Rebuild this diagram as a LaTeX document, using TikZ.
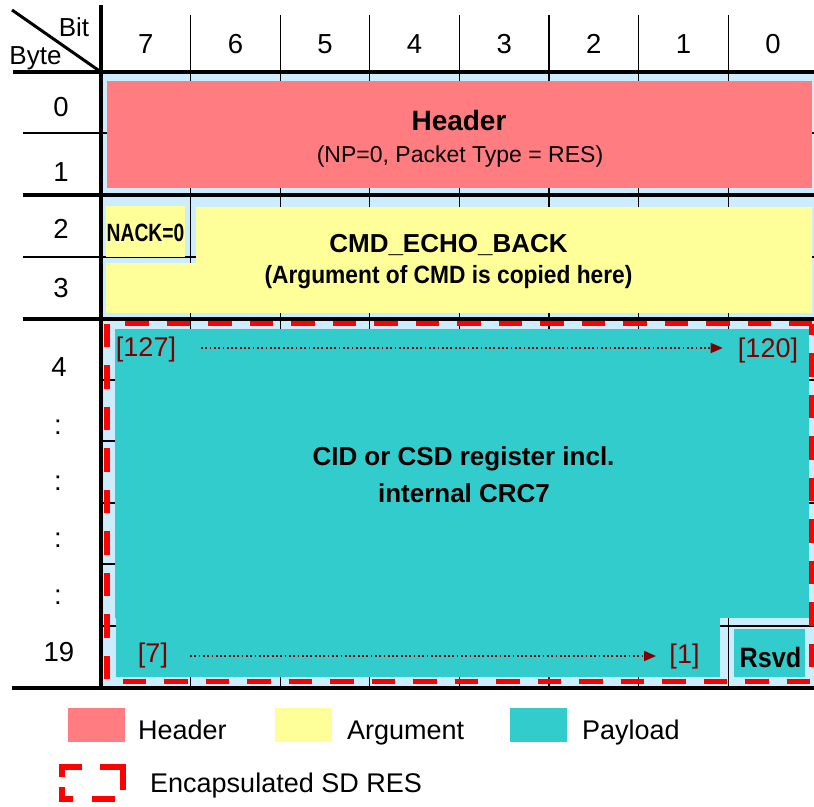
\documentclass[tikz,border=0pt]{standalone}
\usepackage{fontspec}
\usepackage{graphicx}
\setmainfont{Liberation Sans}
\usetikzlibrary{arrows.meta}
\definecolor{lb}{HTML}{CCECFF}
\definecolor{pinkc}{HTML}{FF7C80}
\definecolor{yelc}{HTML}{FFFF99}
\definecolor{tealc}{HTML}{33CCCC}
\definecolor{dred}{HTML}{800000}
\definecolor{redc}{HTML}{FF0000}
\newcommand{\fs}[1]{\fontsize{#1}{#1}\selectfont}
\begin{document}
\begin{tikzpicture}[x=1pt,y=-1pt,
  txt/.style={inner sep=0pt,anchor=base},
  ltxt/.style={inner sep=0pt,anchor=base west},
  thin grid/.style={line width=1.3pt,black},
  thick rule/.style={line width=4pt,black},
  encl/.style={line width=5.5pt,redc,dash pattern=on 23.5pt off 18pt},
  dotarrow/.style={dred,line width=1.8pt,dash pattern=on 1.8pt off 2.5pt,
     -{Triangle[length=12pt,width=10pt]}},
  legsym/.style={line width=6pt,redc,line join=miter}]
\useasboundingbox (0,0) rectangle (814,806);
% light blue background
\fill[lb] (101,72) rectangle (814,688);
% grid
\foreach \k in {1,...,7}{
  \draw[thin grid] ({101+89.6*\k},15) -- ({101+89.6*\k},688);
}
\foreach \yy in {133,257,380,441,503,564,626}{
  \draw[thin grid] (101,\yy) -- (814,\yy);
}
\draw[thin grid] (23,133) -- (101,133);
\draw[thin grid] (23,257) -- (101,257);
% coloured blocks
\fill[pinkc] (107,81) rectangle (812,188);
\fill[yelc] (106,206) rectangle (185,257);
\fill[yelc] (196,207) rectangle (812,313);
\fill[yelc] (106,263) rectangle (812,313);
\fill[tealc] (115,329) rectangle (809,618);
\fill[tealc] (116,616) rectangle (720,677);
\fill[tealc] (734,629) rectangle (805,677);
% thick rules
\draw[thick rule] (13,72) -- (814,72);
\draw[thick rule] (23,195) -- (814,195);
\draw[thick rule] (23,318.5) -- (814,318.5);
\draw[thick rule] (12,688) -- (814,688);
\draw[thick rule] (101,5) -- (101,690);
\draw[line width=3pt] (12,10) -- (101,72);
% encapsulation frame
\coordinate (e1) at (107,323.5);
\coordinate (e2) at (811.5,323.5);
\coordinate (e3) at (811.5,681.5);
\coordinate (e4) at (107,681.5);
\draw[encl,dash phase=23.5pt] (e1) -- (e2);
\draw[encl,dash phase=0pt] (e1) -- (e4);
\draw[encl,dash phase=26pt] (e4) -- (e3);
\draw[encl,dash phase=12pt] (e2) -- (e3);
% corner labels
\node[txt] (bit) at (74,36) {\fs{26}Bit};
\node[txt] (byte) at (35.5,64) {\fs{26}Byte};
% column labels
\foreach \b [count=\i from 0] in {7,6,5,4,3,2,1,0}{
  \node[txt] (col\b) at ({145.8+89.6*\i},53) {\fs{27.5}\b};
}
% byte labels
\node[txt] (r0) at (61,116) {\fs{27.5}0};
\node[txt] (r1) at (61,181) {\fs{27.5}1};
\node[txt] (r2) at (61,238) {\fs{27.5}2};
\node[txt] (r3) at (61,297) {\fs{27.5}3};
\node[txt] (r4) at (59,376) {\fs{27.5}4};
\node[txt] (c1) at (58,434) {\fs{27.5}:};
\node[txt] (c2) at (58,490) {\fs{27.5}:};
\node[txt] (c3) at (58,547) {\fs{27.5}:};
\node[txt] (c4) at (58,604) {\fs{27.5}:};
\node[txt] (r19) at (59,661) {\fs{27.5}19};
% header texts
\node[txt] (hdr) at (459,130) {\fs{28}\bfseries Header};
\node[txt] (hdr2) at (460,162) {\fs{23}(NP=0, Packet Type = RES)};
% argument texts
\node[txt] (nack) at (145.5,241) {\scalebox{0.77}[1]{\fs{25}\bfseries NACK=0}};
\node[txt] (cmd) at (448.5,252) {\fs{26}\bfseries CMD\_ECHO\_BACK};
\node[txt] (cmd2) at (448.5,283) {\scalebox{0.91}[1]{\fs{25}\bfseries (Argument of CMD is copied here)}};
% payload texts
\node[txt] (cid) at (463.5,465) {\fs{26}\bfseries CID or CSD register incl.};
\node[txt] (cid2) at (464,502) {\fs{26}\bfseries internal CRC7};
\node[txt,text=dred] (b127) at (146,356) {\fs{27}[127]};
\node[txt,text=dred] (b120) at (768,357) {\fs{27}[120]};
\node[txt,text=dred] (b7) at (153,662) {\fs{27}[7]};
\node[txt,text=dred] (b1) at (684.5,663) {\fs{27}[1]};
\node[txt] (rsvd) at (770.5,667) {\scalebox{0.9}[1]{\fs{28}\bfseries Rsvd}};
\coordinate (a1s) at (201,348);
\coordinate (a1e) at (722.7,348);
\coordinate (a2s) at (190,656);
\coordinate (a2e) at (656,656);
\draw[dotarrow] (a1s) -- (a1e);
\draw[dotarrow] (a2s) -- (a2e);
% legend
\fill[pinkc] (68,708) rectangle (125,742);
\fill[yelc] (275,708) rectangle (332,742);
\fill[tealc] (510,708) rectangle (567,742);
\node[ltxt] (lh) at (138,739) {\fs{27}Header};
\node[ltxt] (la) at (347,739) {\fs{27}Argument};
\node[ltxt] (lp) at (582,739) {\fs{27}Payload};
\draw[legsym] (62,777) -- (62,767) -- (82,767);
\draw[legsym] (100,767) -- (123,767) -- (123,790);
\draw[legsym] (62,787) -- (62,799) -- (73,799);
\draw[legsym] (92,799) -- (115,799);
\node[ltxt] (le) at (150,792) {\fs{27}Encapsulated SD RES};
\end{tikzpicture}
\end{document}
